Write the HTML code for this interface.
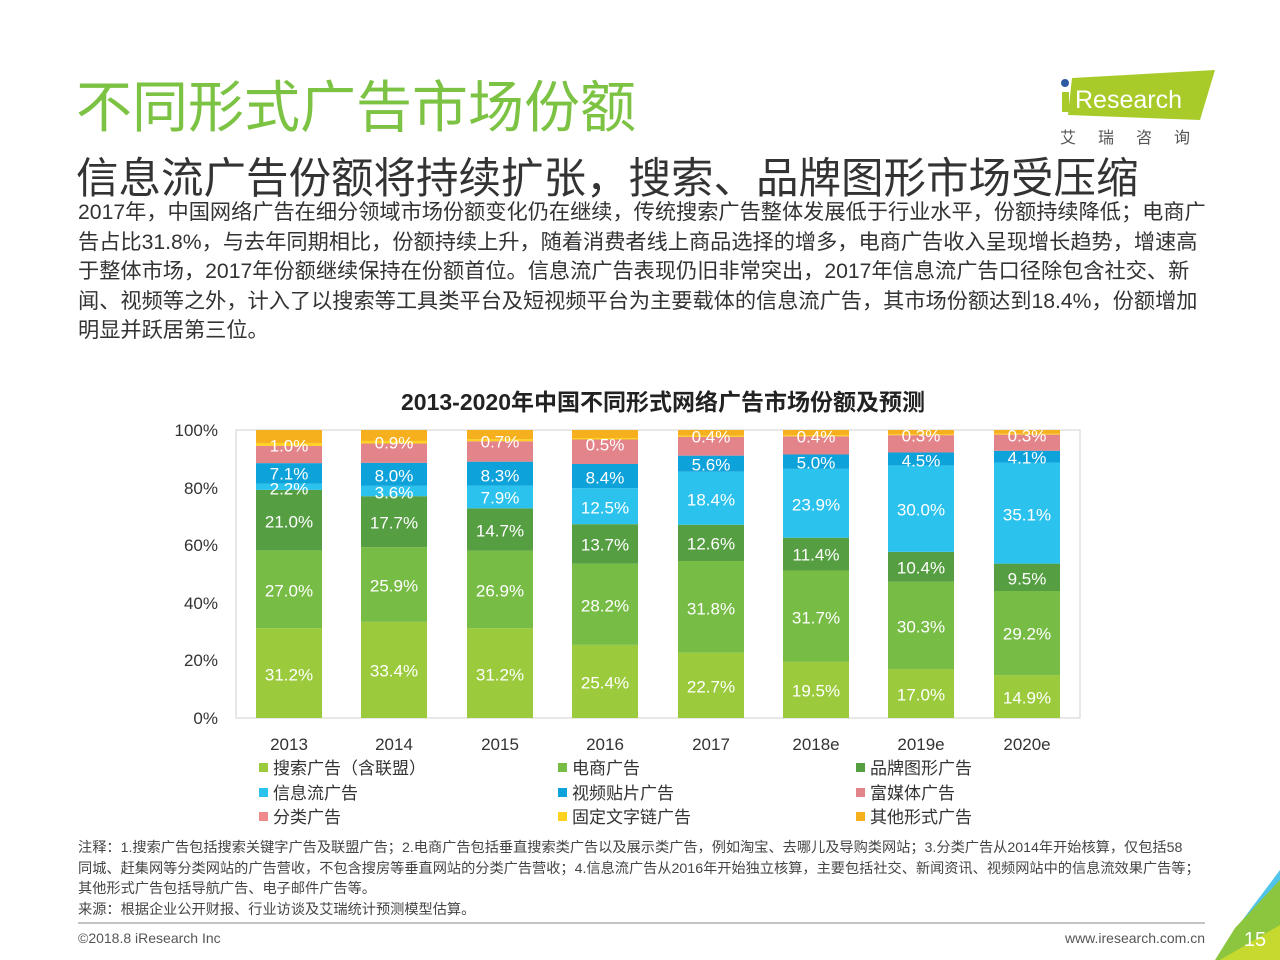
<!DOCTYPE html>
<html><head><meta charset="utf-8"><style>
body{margin:0;width:1280px;height:960px;background:#fff;position:relative;overflow:hidden;font-family:"Liberation Sans","Noto Sans CJK SC",sans-serif;}
.a{position:absolute;white-space:nowrap;}
</style></head><body>
<div class="a" style="left:76px;top:80px;font-size:56px;line-height:56px;color:#7CC243;">不同形式广告市场份额</div>
<div class="a" style="left:76px;top:158px;font-size:42.5px;line-height:44px;color:#333;">信息流广告份额将持续扩张，搜索、品牌图形市场受压缩</div>
<div class="a" style="left:78px;top:198px;font-size:21.2px;color:#333;line-height:29.6px;">2017年，中国网络广告在细分领域市场份额变化仍在继续，传统搜索广告整体发展低于行业水平，份额持续降低；电商广<br>告占比31.8%，与去年同期相比，份额持续上升，随着消费者线上商品选择的增多，电商广告收入呈现增长趋势，增速高<br>于整体市场，2017年份额继续保持在份额首位。信息流广告表现仍旧非常突出，2017年信息流广告口径除包含社交、新<br>闻、视频等之外，计入了以搜索等工具类平台及短视频平台为主要载体的信息流广告，其市场份额达到18.4%，份额增加<br>明显并跃居第三位。</div>
<svg class="a" style="left:0;top:0" width="1280" height="960">
<polygon points="1072,78 1215,70 1200,120 1068,115" fill="#A8CB2A"/>
<circle cx="1065" cy="83" r="4" fill="#2C5AA0"/>
<rect x="1062" y="92" width="7" height="20" fill="#A8CB2A"/>
<text x="1075" y="108" font-size="25" fill="#fff" font-family="Liberation Sans">Research</text>
<text x="1060" y="143" font-size="16" fill="#555" font-family="Noto Sans CJK SC" letter-spacing="22">艾瑞咨询</text>
<text x="663" y="410" font-size="23" font-weight="bold" fill="#222" text-anchor="middle">2013-2020年中国不同形式网络广告市场份额及预测</text>
<rect x="236" y="430" width="844" height="288" fill="none" stroke="#d0d0d0"/>
<g font-size="17" fill="#333" text-anchor="end">
<text x="218" y="436">100%</text><text x="218" y="494">80%</text><text x="218" y="551">60%</text><text x="218" y="609">40%</text><text x="218" y="666">20%</text><text x="218" y="724">0%</text>
</g>
<g font-size="17" fill="#333" text-anchor="middle">
<text x="289" y="750">2013</text><text x="394" y="750">2014</text><text x="500" y="750">2015</text><text x="605" y="750">2016</text><text x="711" y="750">2017</text><text x="816" y="750">2018e</text><text x="921" y="750">2019e</text><text x="1027" y="750">2020e</text>
</g>
<g transform="translate(0,718) scale(1,-2.88)">
<g fill="#9BCB3C"><rect x="256" y="0" width="66" height="31.2"/><rect x="361" y="0" width="66" height="33.4"/><rect x="467" y="0" width="66" height="31.2"/><rect x="572" y="0" width="66" height="25.4"/><rect x="678" y="0" width="66" height="22.7"/><rect x="783" y="0" width="66" height="19.5"/><rect x="888" y="0" width="66" height="17"/><rect x="994" y="0" width="66" height="14.9"/></g>
<g fill="#77BC45"><rect x="256" y="31.2" width="66" height="27"/><rect x="361" y="33.4" width="66" height="25.9"/><rect x="467" y="31.2" width="66" height="26.9"/><rect x="572" y="25.4" width="66" height="28.2"/><rect x="678" y="22.7" width="66" height="31.8"/><rect x="783" y="19.5" width="66" height="31.7"/><rect x="888" y="17" width="66" height="30.3"/><rect x="994" y="14.9" width="66" height="29.2"/></g>
<g fill="#569E42"><rect x="256" y="58.2" width="66" height="21"/><rect x="361" y="59.3" width="66" height="17.7"/><rect x="467" y="58.1" width="66" height="14.7"/><rect x="572" y="53.6" width="66" height="13.7"/><rect x="678" y="54.5" width="66" height="12.6"/><rect x="783" y="51.2" width="66" height="11.4"/><rect x="888" y="47.3" width="66" height="10.4"/><rect x="994" y="44.1" width="66" height="9.5"/></g>
<g fill="#2CC2EE"><rect x="256" y="79.2" width="66" height="2.2"/><rect x="361" y="77" width="66" height="3.6"/><rect x="467" y="72.8" width="66" height="7.9"/><rect x="572" y="67.3" width="66" height="12.5"/><rect x="678" y="67.1" width="66" height="18.4"/><rect x="783" y="62.6" width="66" height="23.9"/><rect x="888" y="57.7" width="66" height="30"/><rect x="994" y="53.6" width="66" height="35.1"/></g>
<g fill="#0EA2DA"><rect x="256" y="81.4" width="66" height="7.1"/><rect x="361" y="80.6" width="66" height="8"/><rect x="467" y="80.7" width="66" height="8.3"/><rect x="572" y="79.8" width="66" height="8.4"/><rect x="678" y="85.5" width="66" height="5.6"/><rect x="783" y="86.5" width="66" height="5"/><rect x="888" y="87.7" width="66" height="4.5"/><rect x="994" y="88.7" width="66" height="4.1"/></g>
<g fill="#E3838A"><rect x="256" y="88.5" width="66" height="6"/><rect x="361" y="88.6" width="66" height="6.7"/><rect x="467" y="89" width="66" height="7.1"/><rect x="572" y="88.2" width="66" height="8.5"/><rect x="678" y="91.1" width="66" height="6.5"/><rect x="783" y="91.5" width="66" height="6.3"/><rect x="888" y="92.2" width="66" height="6"/><rect x="994" y="92.8" width="66" height="5.6"/></g>
<g fill="#FFD21F"><rect x="256" y="94.5" width="66" height="1"/><rect x="361" y="95.3" width="66" height="0.9"/><rect x="467" y="96.1" width="66" height="0.7"/><rect x="572" y="96.7" width="66" height="0.5"/><rect x="678" y="97.6" width="66" height="0.4"/><rect x="783" y="97.8" width="66" height="0.4"/><rect x="888" y="98.2" width="66" height="0.3"/><rect x="994" y="98.4" width="66" height="0.3"/></g>
<g fill="#F6B01E"><rect x="256" y="95.5" width="66" height="4.5"/><rect x="361" y="96.2" width="66" height="3.8"/><rect x="467" y="96.8" width="66" height="3.2"/><rect x="572" y="97.2" width="66" height="2.8"/><rect x="678" y="98" width="66" height="2"/><rect x="783" y="98.2" width="66" height="1.8"/><rect x="888" y="98.5" width="66" height="1.5"/><rect x="994" y="98.7" width="66" height="1.3"/></g>
</g>
<g font-size="17" fill="#fff" text-anchor="middle" dominant-baseline="central">
<text x="289" y="675">31.2%</text><text x="289" y="591">27.0%</text><text x="289" y="522">21.0%</text><text x="289" y="489">2.2%</text><text x="289" y="474">7.1%</text><text x="289" y="446">1.0%</text>
<text x="394" y="671">33.4%</text><text x="394" y="586">25.9%</text><text x="394" y="523">17.7%</text><text x="394" y="493">3.6%</text><text x="394" y="476">8.0%</text><text x="394" y="443">0.9%</text>
<text x="500" y="675">31.2%</text><text x="500" y="591">26.9%</text><text x="500" y="531">14.7%</text><text x="500" y="498">7.9%</text><text x="500" y="476">8.3%</text><text x="500" y="442">0.7%</text>
<text x="605" y="683">25.4%</text><text x="605" y="606">28.2%</text><text x="605" y="545">13.7%</text><text x="605" y="508">12.5%</text><text x="605" y="478">8.4%</text><text x="605" y="445">0.5%</text>
<text x="711" y="687">22.7%</text><text x="711" y="609">31.8%</text><text x="711" y="544">12.6%</text><text x="711" y="500">18.4%</text><text x="711" y="465">5.6%</text><text x="711" y="437">0.4%</text>
<text x="816" y="691">19.5%</text><text x="816" y="618">31.7%</text><text x="816" y="555">11.4%</text><text x="816" y="505">23.9%</text><text x="816" y="463">5.0%</text><text x="816" y="437">0.4%</text>
<text x="921" y="695">17.0%</text><text x="921" y="627">30.3%</text><text x="921" y="568">10.4%</text><text x="921" y="510">30.0%</text><text x="921" y="461">4.5%</text><text x="921" y="436">0.3%</text>
<text x="1027" y="698">14.9%</text><text x="1027" y="634">29.2%</text><text x="1027" y="579">9.5%</text><text x="1027" y="515">35.1%</text><text x="1027" y="458">4.1%</text><text x="1027" y="436">0.3%</text>
</g>
<g font-size="17" fill="#333">
<rect x="259" y="763" width="9" height="9" fill="#9BCB3C"/><text x="273" y="774">搜索广告（含联盟）</text>
<rect x="558" y="763" width="9" height="9" fill="#77BC45"/><text x="572" y="774">电商广告</text>
<rect x="856" y="763" width="9" height="9" fill="#569E42"/><text x="870" y="774">品牌图形广告</text>
<rect x="259" y="788" width="9" height="9" fill="#2CC2EE"/><text x="273" y="799">信息流广告</text>
<rect x="558" y="788" width="9" height="9" fill="#0EA2DA"/><text x="572" y="799">视频贴片广告</text>
<rect x="856" y="788" width="9" height="9" fill="#E3838A"/><text x="870" y="799">富媒体广告</text>
<rect x="259" y="812" width="9" height="9" fill="#F08A8A"/><text x="273" y="823">分类广告</text>
<rect x="558" y="812" width="9" height="9" fill="#FFD21F"/><text x="572" y="823">固定文字链广告</text>
<rect x="856" y="812" width="9" height="9" fill="#F6B01E"/><text x="870" y="823">其他形式广告</text>
</g>
<g font-size="14.2" fill="#444">
<text x="78" y="852">注释：1.搜索广告包括搜索关键字广告及联盟广告；2.电商广告包括垂直搜索类广告以及展示类广告，例如淘宝、去哪儿及导购类网站；3.分类广告从2014年开始核算，仅包括58</text>
<text x="78" y="873">同城、赶集网等分类网站的广告营收，不包含搜房等垂直网站的分类广告营收；4.信息流广告从2016年开始独立核算，主要包括社交、新闻资讯、视频网站中的信息流效果广告等；</text>
<text x="78" y="893">其他形式广告包括导航广告、电子邮件广告等。</text>
<text x="78" y="914">来源：根据企业公开财报、行业访谈及艾瑞统计预测模型估算。</text>
</g>
<line x1="78" y1="923" x2="1205" y2="923" stroke="#888" stroke-width="1"/>
<text x="78" y="943" font-size="14" fill="#555">©2018.8 iResearch Inc</text>
<text x="1205" y="943" font-size="14" fill="#555" text-anchor="end">www.iresearch.com.cn</text>
<polygon points="1280,870 1280,905 1235,930" fill="#4FC3EA"/>
<polygon points="1280,880 1280,960 1215,960 1235,928" fill="#8CC63F"/>
<polygon points="1280,925 1280,960 1220,960" fill="#C6D92E"/>
<text x="1255" y="946" font-size="20" fill="#fff" text-anchor="middle">15</text>
</svg>
</body></html>
